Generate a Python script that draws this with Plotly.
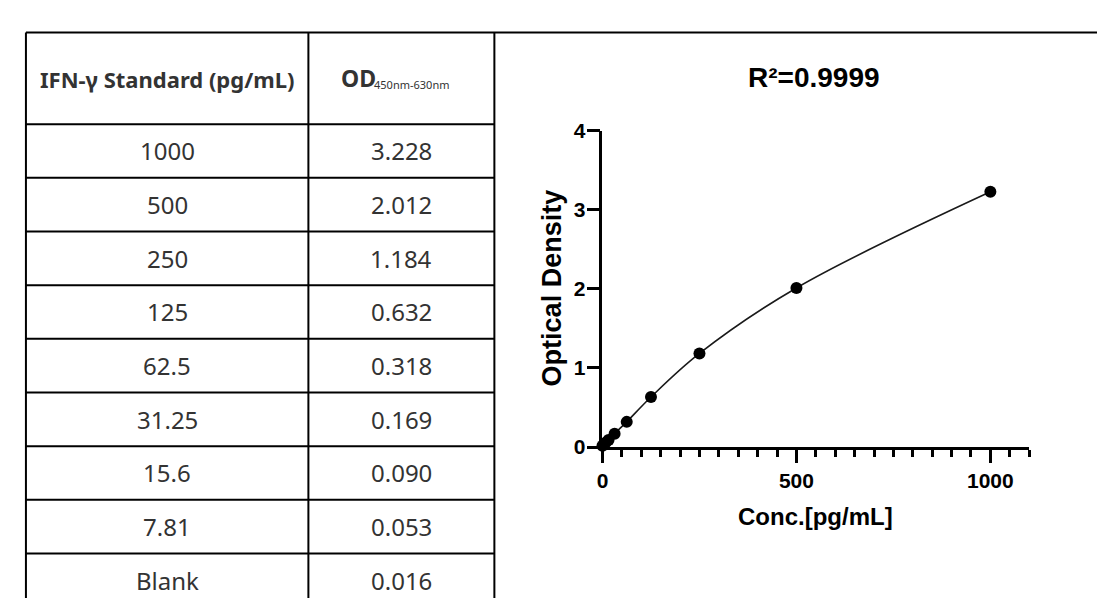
import plotly.graph_objects as go

W, H = 1105, 601

# ---------------- data ----------------
std_labels = ["1000", "500", "250", "125", "62.5", "31.25", "15.6", "7.81", "Blank"]
conc = [1000, 500, 250, 125, 62.5, 31.25, 15.6, 7.81, 0]
od = [3.228, 2.012, 1.184, 0.632, 0.318, 0.169, 0.090, 0.053, 0.016]
od_labels = ["3.228", "2.012", "1.184", "0.632", "0.318", "0.169", "0.090", "0.053", "0.016"]
header_std = "IFN-γ Standard (pg/mL)"
header_od = "OD"
header_od_sub = "450nm-630nm"
title_text = "R²=0.9999"
x_title = "Conc.[pg/mL]"
y_title = "Optical Density"
x_tickvals = [0, 500, 1000]
y_tickvals = [0, 1, 2, 3, 4]

# ---------------- layout helpers ----------------
def px(x):
    return x / W


def py(y):
    return 1 - y / H


TBL_L, TBL_M, TBL_R = 12, 296, 483
TBL_T, HDR_B, ROW_H = 13, 108.3, 55.8
LINE_W = 2

shapes = []
# top border across full width
shapes.append(dict(type="line", xref="paper", yref="paper",
                   x0=px(TBL_L), x1=1, y0=py(TBL_T), y1=py(TBL_T),
                   line=dict(color="black", width=LINE_W)))
# vertical lines
for xv in (TBL_L, TBL_M, TBL_R):
    shapes.append(dict(type="line", xref="paper", yref="paper",
                       x0=px(xv), x1=px(xv), y0=py(TBL_T), y1=0,
                       line=dict(color="black", width=LINE_W)))
# horizontal row lines
n_rows = len(std_labels)
for k in range(n_rows):
    yv = HDR_B + k * ROW_H
    shapes.append(dict(type="line", xref="paper", yref="paper",
                       x0=px(TBL_L), x1=px(TBL_R), y0=py(yv), y1=py(yv),
                       line=dict(color="black", width=LINE_W)))

annotations = []
col_centers = [(TBL_L + TBL_M) / 2, (TBL_M + TBL_R) / 2]
hdr_font = dict(family="Noto Sans", size=22, color="#333333", weight="bold")
annotations.append(dict(xref="paper", yref="paper", x=px(col_centers[0]), y=py(61),
                        text=header_std, showarrow=False, xanchor="center",
                        yanchor="middle", font=hdr_font))
# "OD" with small baseline-aligned suffix
annotations.append(dict(xref="paper", yref="paper", x=px(366), y=py(79),
                        text=header_od, showarrow=False, xanchor="right",
                        yanchor="bottom",
                        font=dict(family="Noto Sans", size=23, color="#333333",
                                  weight="bold")))
annotations.append(dict(xref="paper", yref="paper", x=px(360), y=py(76.5),
                        text=header_od_sub, showarrow=False, xanchor="left",
                        yanchor="bottom",
                        font=dict(family="Noto Sans", size=11, color="#333333")))

cell_font = dict(family="Noto Sans", size=24, color="#333333")
for k in range(n_rows):
    cy = HDR_B + (k + 0.5) * ROW_H
    for cx, txt in zip(col_centers, (std_labels[k], od_labels[k])):
        annotations.append(dict(xref="paper", yref="paper", x=px(cx), y=py(cy),
                                text=txt, showarrow=False, xanchor="center",
                                yanchor="middle", font=cell_font))

# chart titles
bold = dict(family="Liberation Sans, Arial", color="black", weight="bold")
annotations.append(dict(xref="paper", yref="paper", x=px(804), y=py(60),
                        text=title_text, showarrow=False, xanchor="center",
                        yanchor="middle", font=dict(size=28, **bold)))
annotations.append(dict(xref="paper", yref="paper", x=px(806), y=py(516),
                        text=x_title, showarrow=False, xanchor="center",
                        yanchor="middle", font=dict(size=24, **bold)))
annotations.append(dict(xref="paper", yref="paper", x=px(541), y=py(279),
                        text=y_title, showarrow=False, xanchor="center",
                        yanchor="middle", textangle=-90,
                        font=dict(size=27, **bold)))

# ---------------- figure ----------------
pts = sorted(zip(conc, od))
fig = go.Figure()
fig.add_trace(go.Scatter(
    x=[p[0] for p in pts], y=[p[1] for p in pts],
    mode="lines+markers",
    line=dict(color="#1a1a1a", width=1.6, shape="spline"),
    marker=dict(color="black", size=12),
    cliponaxis=False, showlegend=False, hoverinfo="x+y"))

tickfont = dict(size=21, **bold)
fig.update_layout(
    width=W, height=H,
    margin=dict(l=0, r=0, t=0, b=0, pad=0),
    paper_bgcolor="white", plot_bgcolor="white",
    shapes=shapes, annotations=annotations,
    xaxis=dict(domain=[px(591.7), px(1020.7)], range=[0, 1100],
               showline=True, linewidth=2.5, linecolor="black",
               ticks="outside", ticklen=13, tickwidth=2.5, tickcolor="black",
               tickvals=x_tickvals, showgrid=False, zeroline=False,
               tickfont=tickfont, ticklabelstandoff=0,
               minor=dict(dtick=50, tick0=0, ticks="outside", ticklen=7,
                          tickwidth=2.5, tickcolor="black", showgrid=False)),
    yaxis=dict(domain=[py(444), py(115.2)], range=[0, 4],
               showline=True, linewidth=2.5, linecolor="black",
               ticks="outside", ticklen=13, tickwidth=2.5, tickcolor="black",
               tickvals=y_tickvals, showgrid=False, zeroline=False,
               tickfont=tickfont, ticklabelstandoff=-3),
)

fig.write_html("out.html")
